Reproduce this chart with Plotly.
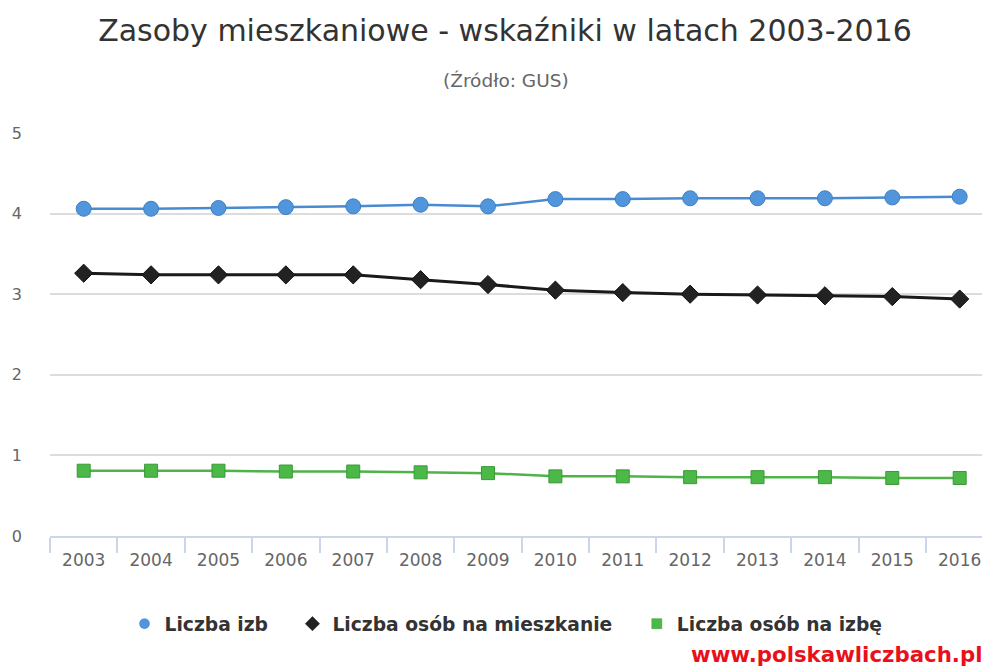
import plotly.graph_objects as go

years = ["2003", "2004", "2005", "2006", "2007", "2008", "2009",
         "2010", "2011", "2012", "2013", "2014", "2015", "2016"]
liczba_izb = [4.06, 4.06, 4.07, 4.08, 4.09, 4.11, 4.09, 4.18, 4.18, 4.19, 4.19, 4.19, 4.20, 4.21]
osob_na_mieszkanie = [3.26, 3.24, 3.24, 3.24, 3.24, 3.18, 3.12, 3.05, 3.02, 3.00, 2.99, 2.98, 2.97, 2.94]
osob_na_izbe = [0.81, 0.81, 0.81, 0.80, 0.80, 0.79, 0.78, 0.74, 0.74, 0.73, 0.73, 0.73, 0.72, 0.72]
y_ticks = [0, 1, 2, 3, 4, 5]
series_names = ["Liczba izb", "Liczba osób na mieszkanie", "Liczba osób na izbę"]

# page has an 8px body margin; the figure is sized to fit the 990x671 window
OFF = 8
W, H = 990 - OFF, 671 - OFF
L, R, T, B = 50 - OFF, 0, 133 - OFF, 671 - 536
PW, PH = W - L - R, H - T - B
FONT = "DejaVu Sans, Verdana, sans-serif"


def px_y(page_y):
    return (H - B - (page_y - OFF)) / PH


def px_x(page_x):
    return (page_x - OFF - L) / PW


colors = ["#5196dc", "#222222", "#4cb848"]
line_colors = ["#4a8bd0", "#1a1a1a", "#4fb34a"]
edge_colors = ["#3f7fc4", "#111111", "#3a9a36"]
symbols = ["circle", "diamond", "square"]
sizes = [15, 14, 13]
widths = [2.5, 3, 2.5]
values = [liczba_izb, osob_na_mieszkanie, osob_na_izbe]

fig = go.Figure()
for name, vals, c, lc, ec, sym, sz, w in zip(series_names, values, colors, line_colors,
                                             edge_colors, symbols, sizes, widths):
    fig.add_trace(go.Scatter(
        x=years, y=vals, name=name, mode="lines+markers", showlegend=False,
        line=dict(color=lc, width=w),
        marker=dict(symbol=sym, size=sz, color=c, line=dict(color=ec, width=1))))

pad = "\u00a0\u00a0\u00a0"
for i, (name, c, ec, sym) in enumerate(zip(series_names, colors, edge_colors, symbols)):
    fig.add_trace(go.Scatter(
        x=[None], y=[None], name=name + (pad if i < 2 else ""), mode="markers",
        showlegend=True,
        marker=dict(symbol=sym, size=10 if sym != "diamond" else 11, color=c,
                    line=dict(color=ec, width=0.5))))

fig.update_layout(
    width=W, height=H,
    margin=dict(l=L, r=R, t=T, b=B),
    paper_bgcolor="white", plot_bgcolor="white",
    font=dict(family=FONT, color="#555555"),
    title=dict(text="Zasoby mieszkaniowe - wskaźniki w latach 2003-2016",
               x=(505 - OFF) / W, xanchor="center", y=1 - (30 - OFF) / H, yanchor="middle",
               yref="container", xref="container",
               font=dict(size=30, color="#333333", family=FONT)),
    showlegend=True,
    legend=dict(orientation="h", x=px_x(506), xanchor="center",
                y=px_y(624), yanchor="middle",
                font=dict(size=18.7, color="#333333", family=FONT, weight="bold"),
                itemwidth=30, tracegroupgap=0),
    xaxis=dict(
        type="category", range=[-0.5, 13.45],
        showgrid=False, showline=True, linecolor="#ccd6eb", linewidth=1.5,
        ticks="outside", tickson="boundaries", ticklen=15, tickcolor="#ccd6eb",
        tickwidth=1.5,
        tickfont=dict(size=17, color="#666666"), ticklabelstandoff=8,
        zeroline=False, fixedrange=True),
    yaxis=dict(
        range=[0, 5], tickvals=y_ticks, showgrid=True, gridcolor="#dcdcdc",
        gridwidth=1.5, zeroline=False, showline=False,
        tickfont=dict(size=16, color="#666666"), ticklabelstandoff=27),
    annotations=[
        dict(text="(Źródło: GUS)", xref="paper", yref="paper",
             x=px_x(506), y=px_y(81), xanchor="center", yanchor="middle",
             showarrow=False, font=dict(size=18.5, color="#666666", family=FONT)),
        dict(text="<b>www.polskawliczbach.pl</b>", xref="paper", yref="paper",
             x=px_x(689), y=px_y(654), xanchor="left", yanchor="middle",
             showarrow=False, font=dict(size=21.3, color="#e8111b", family=FONT)),
    ],
)

fig.write_html("out.html")
